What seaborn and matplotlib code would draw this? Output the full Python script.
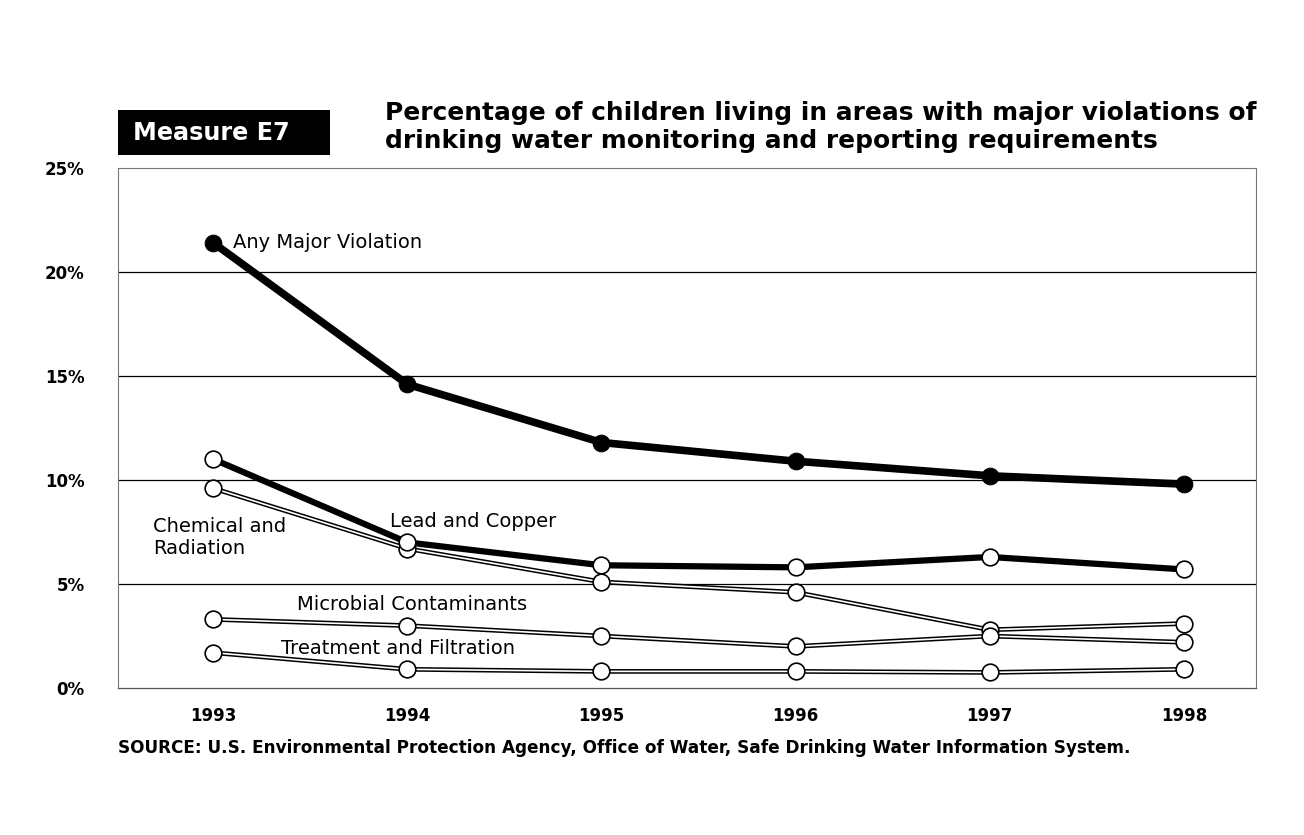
import numpy as np
import pandas as pd
import seaborn as sns
import matplotlib.pyplot as plt

years = [1993, 1994, 1995, 1996, 1997, 1998]
any_major = [21.4, 14.6, 11.8, 10.9, 10.2, 9.8]
lead_copper = [11.0, 7.0, 5.9, 5.8, 6.3, 5.7]
chem_rad = [9.6, 6.7, 5.1, 4.6, 2.8, 3.1]
microbial = [3.3, 3.0, 2.5, 2.0, 2.5, 2.2]
treatment = [1.7, 0.9, 0.8, 0.8, 0.75, 0.9]

y_ticks = [0, 5, 10, 15, 20, 25]
y_labels = ['0%', '5%', '10%', '15%', '20%', '25%']

sns.set_style('white')
plt.rcParams['font.family'] = ['DejaVu Sans']

fig = plt.figure(figsize=(13.04, 8.35), dpi=100)
ax = fig.add_axes([0.0905, 0.176, 0.8725, 0.623])

# thick black series
df = pd.DataFrame({'Year': years, 'Value': any_major})
sns.lineplot(data=df, x='Year', y='Value', ax=ax, color='black', linewidth=5.5,
             marker='o', markersize=12, markerfacecolor='black',
             markeredgecolor='black', zorder=6)

df = pd.DataFrame({'Year': years, 'Value': lead_copper})
sns.lineplot(data=df, x='Year', y='Value', ax=ax, color='black', linewidth=4.5,
             marker='o', markersize=12, markerfacecolor='white',
             markeredgecolor='black', markeredgewidth=1.2, zorder=5)

# double-edged thin series: black underlay, white core with open markers
for vals in [chem_rad, microbial, treatment]:
    df = pd.DataFrame({'Year': years, 'Value': vals})
    sns.lineplot(data=df, x='Year', y='Value', ax=ax, color='black', linewidth=3.4,
                 zorder=3)
    sns.lineplot(data=df, x='Year', y='Value', ax=ax, color='white', linewidth=1.2,
                 marker='o', markersize=12, markerfacecolor='white',
                 markeredgecolor='black', markeredgewidth=1.2, zorder=4)

for y in [5, 10, 15, 20]:
    ax.axhline(y, color='black', linewidth=0.9, zorder=1)

ax.set_xlim(1992.51, 1998.37)
ax.set_ylim(0, 25)
ax.set_xticks(years)
ax.set_xticklabels([str(y) for y in years], fontsize=12, fontweight='bold', color='black')
ax.set_yticks(y_ticks)
ax.set_yticklabels(y_labels, fontsize=12, fontweight='bold', color='black')
ax.tick_params(axis='x', length=0, pad=14)
ax.tick_params(axis='y', length=0, pad=24)
ax.set_xlabel('')
ax.set_ylabel('')
for s in ['top', 'left', 'right']:
    ax.spines[s].set_color('#777777')
    ax.spines[s].set_linewidth(0.8)
ax.spines['bottom'].set_color('#555555')
ax.spines['bottom'].set_linestyle((0, (2, 1)))
ax.spines['bottom'].set_linewidth(0.9)

lab = dict(fontsize=14, color='black', va='center', zorder=8)
ax.text(1993.1, 21.4, 'Any Major Violation', **lab)
ax.text(1993.91, 8.0, 'Lead and Copper', **lab)
ax.text(1992.69, 7.25, 'Chemical and\nRadiation', linespacing=1.2, **lab)
ax.text(1993.43, 4.0, 'Microbial Contaminants', **lab)
ax.text(1993.35, 1.9, 'Treatment and Filtration', **lab)

# header
fig.patches.append(plt.Rectangle((0.0905, 0.814), 0.1626, 0.054, transform=fig.transFigure,
                                 facecolor='black', edgecolor='none', zorder=0))
fig.text(0.102, 0.841, 'Measure E7', fontsize=17.2, fontweight='bold', color='white',
         va='center', ha='left')
fig.text(0.295, 0.848,
         'Percentage of children living in areas with major violations of\n'
         'drinking water monitoring and reporting requirements',
         fontsize=17.9, fontweight='bold', color='black', va='center', ha='left',
         linespacing=1.2)

fig.text(0.0905, 0.104,
         'SOURCE: U.S. Environmental Protection Agency, Office of Water, '
         'Safe Drinking Water Information System.',
         fontsize=12.15, fontweight='bold', color='black', va='center', ha='left')

fig.savefig('out.png', dpi=100)
